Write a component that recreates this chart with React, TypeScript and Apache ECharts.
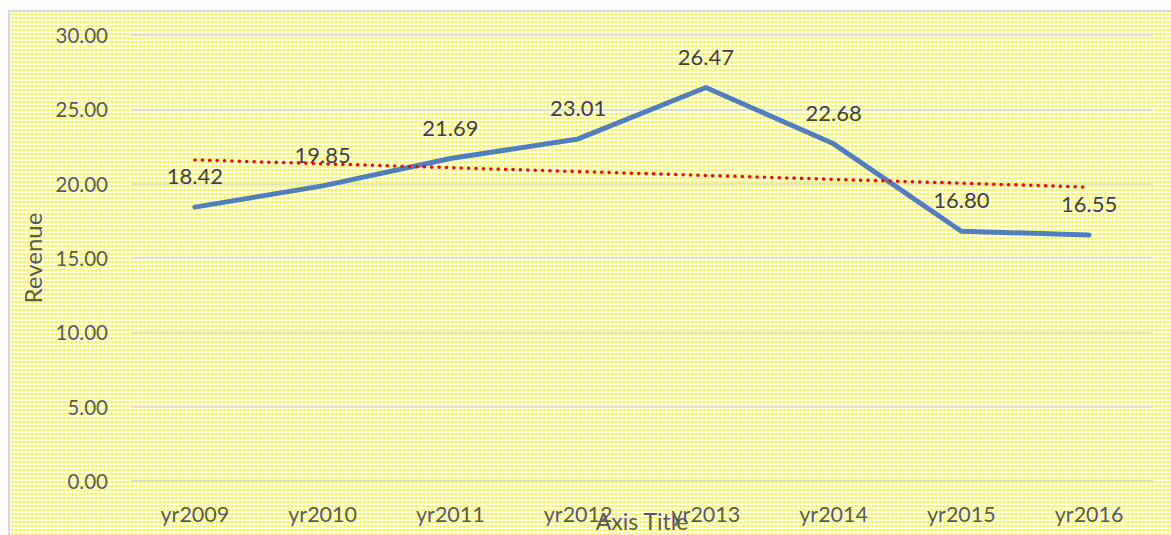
import React, { useEffect, useRef } from "react";
import * as echarts from "echarts";

const categories = ["yr2009", "yr2010", "yr2011", "yr2012", "yr2013", "yr2014", "yr2015", "yr2016"];
const revenue = [18.42, 19.85, 21.69, 23.01, 26.47, 22.68, 16.8, 16.55];
const trendStart = 21.6;
const trendEnd = 19.77;
const yTicks = { min: 0, max: 30, interval: 5 };

const FONT = "Lato, 'Liberation Sans', sans-serif";

export default function App() {
  const ref = useRef<HTMLDivElement>(null);
  useEffect(() => {
    if (!ref.current) return;
    const chart = echarts.init(ref.current, undefined, { renderer: "svg" });
    const trend = categories.map((_, i) =>
      i === 0 ? trendStart : i === categories.length - 1 ? trendEnd : null
    );
    chart.setOption({
      animation: false,
      backgroundColor: "transparent",
      textStyle: { fontFamily: FONT },
      grid: { left: 131, right: 18, top: 35, bottom: 54, containLabel: false, outerBoundsMode: "none" },
      xAxis: {
        type: "category",
        data: categories,
        boundaryGap: true,
        axisLine: { show: true, lineStyle: { color: "#d9d9d9", width: 1.5 } },
        axisTick: { show: false },
        axisLabel: { color: "#595959", fontSize: 21.5, margin: 22, fontFamily: FONT },
        name: "Axis Title",
        nameLocation: "middle",
        nameGap: 28,
        nameMoveOverlap: false,
        nameTextStyle: { color: "#595959", fontSize: 23, fontFamily: FONT },
      },
      yAxis: {
        type: "value",
        min: yTicks.min,
        max: yTicks.max,
        interval: yTicks.interval,
        axisLine: { show: false },
        axisTick: { show: false },
        splitLine: { lineStyle: { color: "#d9d9d9", width: 1.5 } },
        axisLabel: {
          color: "#595959",
          fontSize: 20.5,
          margin: 23,
          fontFamily: FONT,
          formatter: (v: number) => v.toFixed(2),
        },
        name: "Revenue",
        nameLocation: "middle",
        nameGap: 87,
        nameRotate: 90,
        nameMoveOverlap: false,
        nameTextStyle: { color: "#595959", fontSize: 24, fontFamily: FONT },
      },
      series: [
        {
          type: "line",
          data: revenue,
          symbol: "circle",
          symbolSize: 0.5,
          showSymbol: true,
          itemStyle: { color: "rgba(0,0,0,0)" },
          lineStyle: { color: "#4f7fbe", width: 5, cap: "round", join: "round" },
          label: {
            show: true,
            position: "top",
            distance: 20,
            color: "#404040",
            fontSize: 22,
            fontFamily: FONT,
            formatter: (p: any) => Number(p.value).toFixed(2),
          },
          z: 3,
        },
        {
          type: "line",
          data: trend,
          connectNulls: true,
          symbol: "none",
          lineStyle: { color: "#ff0000", width: 3.5, type: [0.1, 7.3], cap: "round" },
          z: 4,
          silent: true,
        },
      ],
    });
    return () => chart.dispose();
  }, []);
  return (
    <>
      <div
        style={{
          position: "fixed",
          left: 8,
          top: 10,
          width: 1163,
          height: 525,
          borderLeft: "2px solid #d9d9d9",
          borderTop: "2px solid #d9d9d9",
          boxSizing: "border-box",
          backgroundColor: "#fffff4",
          backgroundImage: "radial-gradient(circle, #ffff00 1px, rgba(255,255,0,0) 1.6px)",
          backgroundSize: "4px 4px",
        }}
      />
      <div ref={ref} style={{ position: "fixed", left: 0, top: 0, width: 1171, height: 535 }} />
    </>
  );
}
